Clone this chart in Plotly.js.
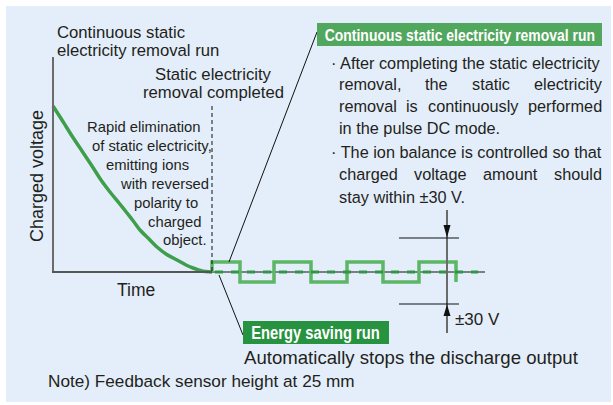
<!DOCTYPE html>
<html>
<head>
<meta charset="utf-8">
<script src="https://cdn.plot.ly/plotly-3.0.1.min.js"></script>
<style>html,body{margin:0;padding:0;background:#fff;}#chart{width:613px;height:405px;}</style>
</head>
<body>
<div id="chart"></div>
<script>
// ---- data (schematic units = picture pixels) ----
// decay of charged voltage during rapid elimination
const curveTime    = [53, 62, 72, 82, 92, 101, 110, 119, 127, 134, 140, 148, 157, 166, 177, 186, 193, 202, 212];
const curveVoltage = [106, 120, 136, 151, 166, 180, 192, 203, 213, 222, 230, 238, 247, 254, 260, 265, 268, 271, 272];
// pulse DC mode: switching instants and the two levels
const pulseEdges = [212, 240, 274, 311, 347, 383, 419, 456];
const pulseHigh = 262, pulseLow = 282, zeroLevel = 272;
const zeroLineStart = 212, zeroLineEnd = 485, greenDashEnd = 478;
// text
const leftTitle = ["Continuous static", "electricity removal run"];
const doneLabel = ["Static electricity", "removal completed"];
const rapidLines = ["Rapid elimination", "of static electricity,", "emitting ions", "with reversed", "polarity to", "charged", "object."];
const yAxisLabel = "Charged voltage";
const xAxisLabel = "Time";
const boxTop = "Continuous static electricity removal run";
const boxBottom = "Energy saving run";
const bottomNote = "Automatically stops the discharge output";
const footNote = "Note) Feedback sensor height at 25 mm";
const bandLabel = "\u00B130 V";
const bullet1 = ["\u00B7 After completing the static electricity",
                 ["removal,", "the", "static", "electricity"],
                 ["removal", "is", "continuously", "performed"],
                 "in the pulse DC mode."];
const bullet2 = ["\u00B7 The ion balance is controlled so that",
                 ["charged", "voltage", "amount", "should"],
                 "stay within \u00B130 V."];

// ---- build traces ----
const pulseX = [], pulseY = [];
pulseX.push(pulseEdges[0]); pulseY.push(zeroLevel);
for (let i = 0; i < pulseEdges.length; i++) {
  const lvl = (i % 2 === 0) ? pulseHigh : pulseLow;
  const prev = (i % 2 === 0) ? pulseLow : pulseHigh;
  if (i > 0) { pulseX.push(pulseEdges[i]); pulseY.push(prev); }
  pulseX.push(pulseEdges[i]); pulseY.push(lvl);
}
pulseX.push(pulseEdges[pulseEdges.length-1]); pulseY.push(pulseLow);

const FONT = "Liberation Sans, Arial, Helvetica, sans-serif";
const TXT = "#231f20";

const traces = [
  {x: [zeroLineStart, zeroLineEnd], y: [zeroLevel, zeroLevel], mode: "lines", line: {color: "#111", width: 1}, hoverinfo: "skip"},
  {x: pulseX, y: pulseY, mode: "lines", line: {color: "#5cb666", width: 3.5, shape: "linear"}, hoverinfo: "skip"},
  {x: [zeroLineStart + 3, greenDashEnd], y: [zeroLevel, zeroLevel], mode: "lines", line: {color: "#2f9744", width: 3, dash: "8px,8px"}, hoverinfo: "skip"},
  {x: curveTime, y: curveVoltage, mode: "lines", line: {color: "#3f9e4b", width: 3.5, shape: "spline", smoothing: 0.6}, hoverinfo: "skip"}
];

const shapes = [
  {type: "rect", xref: "x", yref: "y", x0: 6, x1: 611, y0: 6, y1: 402, fillcolor: "#e3eefa", line: {width: 0}, layer: "below"},
  // axes
  {type: "line", xref: "x", yref: "y", x0: 53, x1: 53, y0: 57, y1: 272, line: {color: "#6b6b6b", width: 2}},
  {type: "line", xref: "x", yref: "y", x0: 52, x1: 212, y0: 272, y1: 272, line: {color: "#555", width: 2}},
  // completion marker
  {type: "line", xref: "x", yref: "y", x0: 212, x1: 212, y0: 106, y1: 272, line: {color: "#111", width: 1, dash: "4px,3px"}},
  // leader lines
  {type: "line", xref: "x", yref: "y", x0: 229, x1: 317, y0: 262, y1: 32, line: {color: "#111", width: 1}},
  {type: "line", xref: "x", yref: "y", x0: 219, x1: 243, y0: 275, y1: 335, line: {color: "#111", width: 1}},
  // ±30 V band
  {type: "line", xref: "x", yref: "y", x0: 447, x1: 447, y0: 210, y1: 333, line: {color: "#6b6b6b", width: 2}},
  {type: "line", xref: "x", yref: "y", x0: 399, x1: 459, y0: 238, y1: 238, line: {color: "#111", width: 1}},
  {type: "line", xref: "x", yref: "y", x0: 399, x1: 459, y0: 304, y1: 304, line: {color: "#111", width: 1}},
  {type: "path", xref: "x", yref: "y", path: "M443.5,225 L450.5,225 L447,237.5 Z", fillcolor: "#111", line: {width: 0}},
  {type: "path", xref: "x", yref: "y", path: "M443.5,316 L450.5,316 L447,304.5 Z", fillcolor: "#111", line: {width: 0}},
  // green label boxes
  {type: "rect", xref: "x", yref: "y", x0: 317, x1: 602, y0: 23, y1: 46, fillcolor: "#52a75e", line: {width: 0}},
  {type: "rect", xref: "x", yref: "y", x0: 243, x1: 389, y0: 321, y1: 344, fillcolor: "#27923f", line: {width: 0}}
];

function txt(text, x, y, size, anchor, extra) {
  return Object.assign({xref: "x", yref: "y", x: x, y: y, text: text, showarrow: false,
    xanchor: anchor || "left", yanchor: "middle", borderpad: 0,
    font: {family: FONT, size: size, color: TXT}}, extra || {});
}

const ann = [];
ann.push(txt(leftTitle[0], 56, 32, 16.7));
ann.push(txt(leftTitle[1], 56, 50, 16.7));
ann.push(txt(doneLabel[0], 213, 74, 16.7, "center"));
ann.push(txt(doneLabel[1], 213, 92.5, 16.7, "center"));
const rapidX = [86, 91, 105, 119, 133, 147, 162];
const rapidY = [127, 146, 165, 184, 203, 222, 240];
rapidLines.forEach((t, i) => ann.push(txt(t, rapidX[i], rapidY[i], 14.8)));
ann.push(txt(yAxisLabel, 37, 176, 18, "center", {textangle: -90}));
ann.push(txt(xAxisLabel, 136, 290, 17.5, "center"));
ann.push(txt("<b>" + boxTop + "</b>", 459.5, 35, 17, "center", {font: {family: FONT, size: 17, color: "#fff"}}));
ann.push(txt("<b>" + boxBottom + "</b>", 315.5, 333, 18, "center", {font: {family: FONT, size: 18, color: "#fff"}}));
ann.push(txt(bottomNote, 243, 357, 18.6));
ann.push(txt(footNote, 47, 381, 17.2));
ann.push(txt(bandLabel, 454, 319, 17));

// right-hand bullets (justified lines spread between the two margins)
const RS = 16.3, RL = 338, RR = 601;
const ctx = document.createElement("canvas").getContext("2d");
function justify(words, y) {
  ctx.font = RS + "px 'Liberation Sans', Arial, sans-serif";
  const w = words.map(s => ctx.measureText(s).width);
  const total = w.reduce((a, b) => a + b, 0);
  const gap = (RR - RL - total) / (words.length - 1);
  let x = RL;
  words.forEach((s, i) => { ann.push(txt(s, x, y, RS, "left")); x += w[i] + gap; });
}
ann.push(txt(bullet1[0], 330, 63, RS));
justify(bullet1[1], 84);
justify(bullet1[2], 106);
ann.push(txt(bullet1[3], RL, 128, RS));
ann.push(txt(bullet2[0], 330, 152, RS));
justify(bullet2[1], 174);
ann.push(txt(bullet2[2], RL, 197, RS));

const layout = {
  width: 613, height: 405,
  margin: {l: 0, r: 0, t: 0, b: 0, pad: 0},
  paper_bgcolor: "#ffffff", plot_bgcolor: "rgba(0,0,0,0)",
  showlegend: false,
  xaxis: {range: [0, 613], visible: false, fixedrange: true},
  yaxis: {range: [405, 0], visible: false, fixedrange: true},
  shapes: shapes,
  annotations: ann
};

Plotly.newPlot("chart", traces, layout, {staticPlot: true, displayModeBar: false}).then(() => {
  // the green labels use a condensed bold face in the original
  document.querySelectorAll("#chart .annotation-text").forEach(t => {
    if (t.textContent === boxTop || t.textContent === boxBottom) {
      t.style.transformBox = "fill-box";
      t.style.transformOrigin = "center";
      t.style.transform = "scaleX(0.82)";
    }
  });
});
</script>
</body>
</html>
